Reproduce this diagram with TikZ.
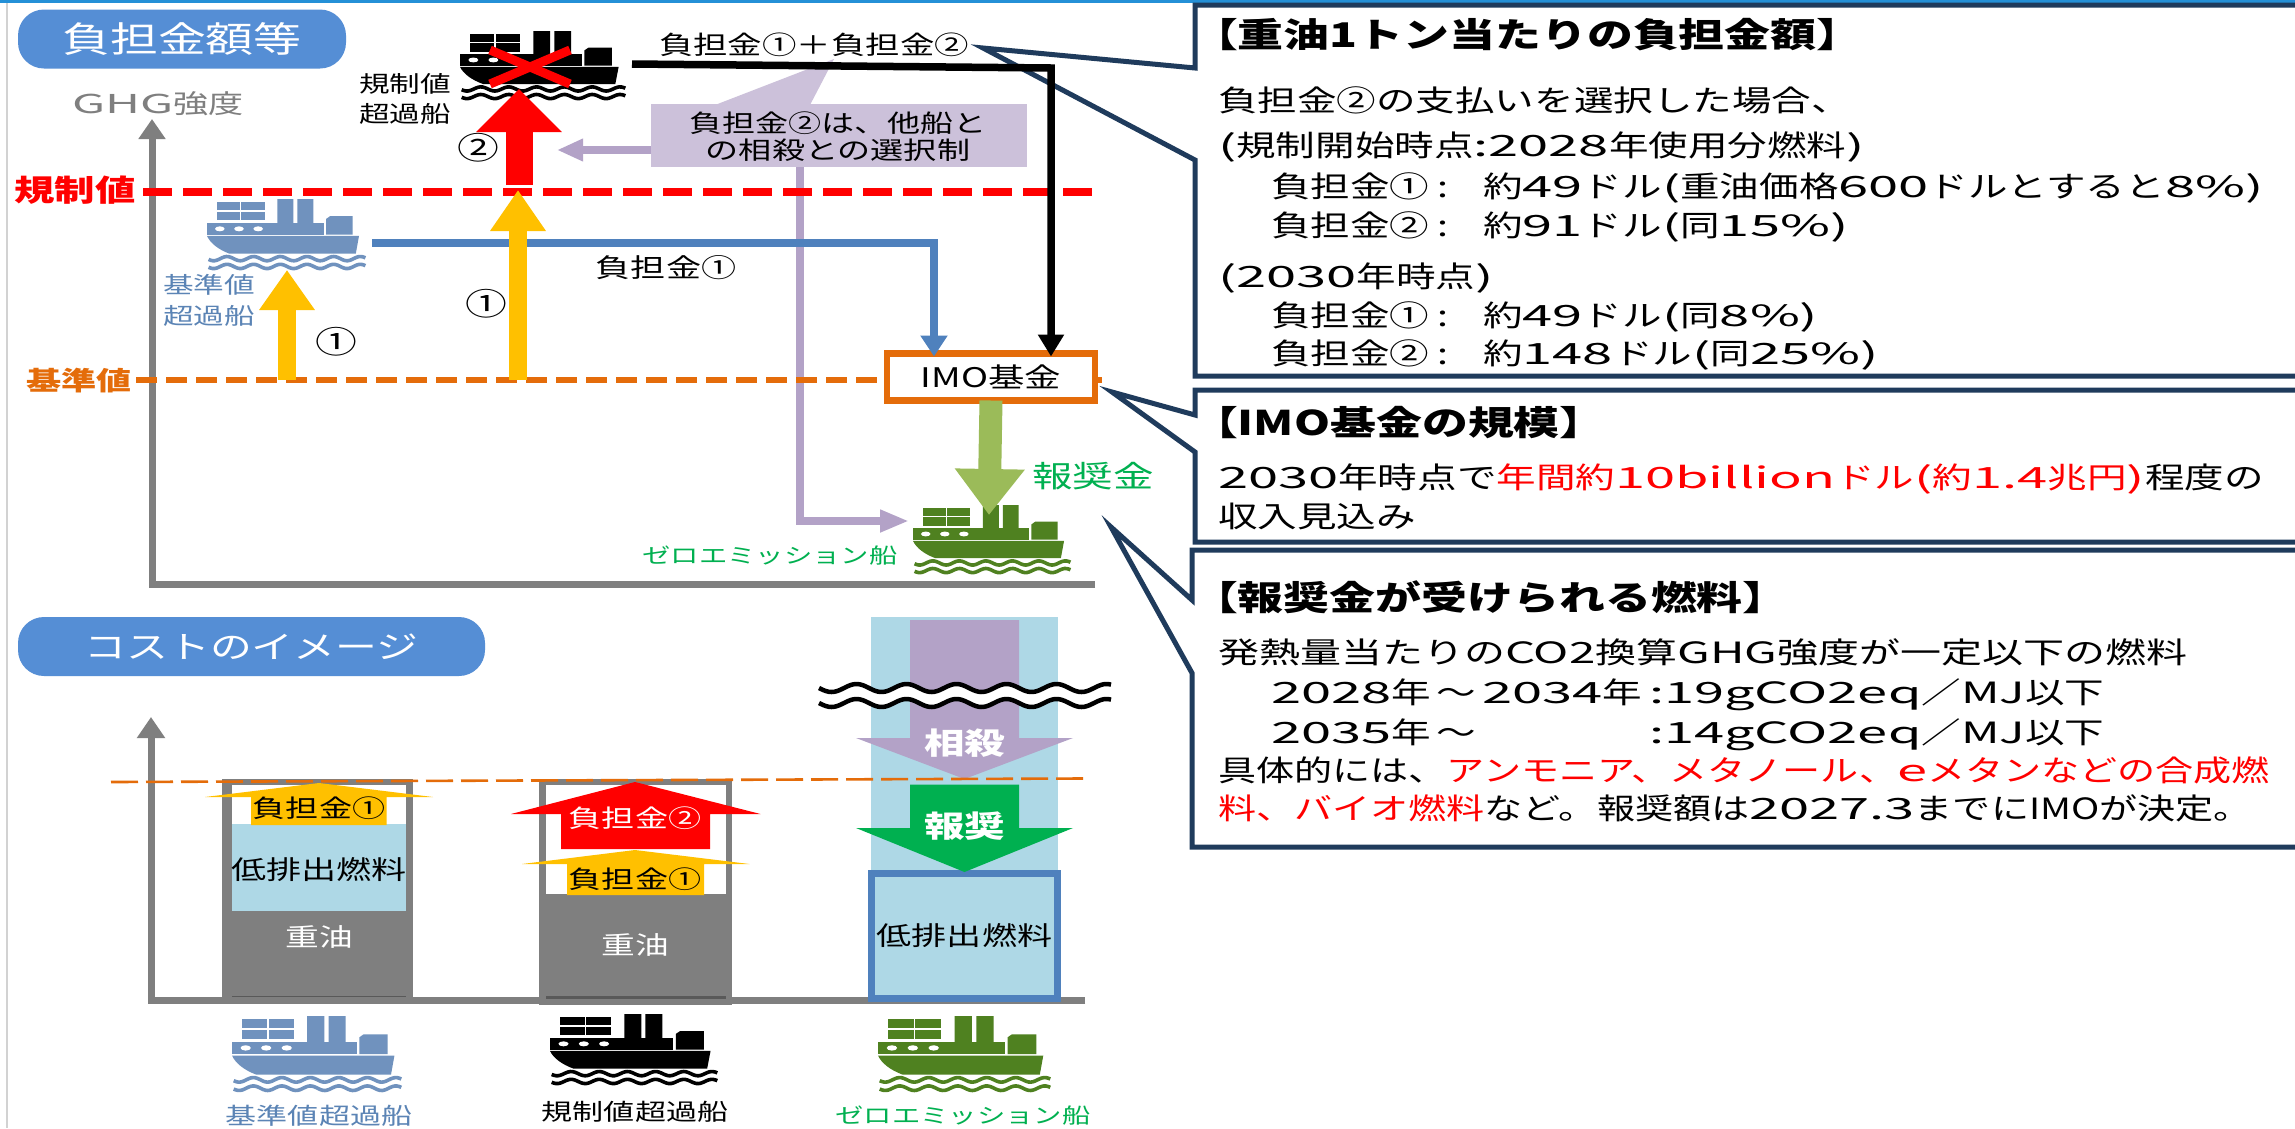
\documentclass[tikz,border=0pt]{standalone}
\usepackage{fontspec}
\usetikzlibrary{arrows.meta,calc}
\setmainfont{Noto Sans CJK JP}[FakeStretch=1.35]
\newfontfamily\latfont{Noto Sans CJK JP}[FakeStretch=1.85]
\newfontfamily\midfont{Noto Sans CJK JP}[FakeStretch=1.62]
\newfontfamily\knfont{Noto Sans CJK JP}[FakeStretch=1.3]
\newfontfamily\wdfont{Noto Sans CJK JP}[FakeStretch=1.4]
\newcommand{\dg}[1]{{\latfont #1}}
\newcommand{\mg}[1]{{\midfont #1}}
\newcommand{\kn}[1]{{\knfont #1}}
\newcommand{\fs}[1]{\fontsize{#1}{#1}\selectfont}
\newcommand{\cl}{\makebox[54pt][l]{\hspace{8pt}:}}
\definecolor{navy}{HTML}{1F3B5C}
\definecolor{axisgray}{HTML}{7F7F7F}
\definecolor{pillblue}{HTML}{558ED5}
\definecolor{fundorange}{HTML}{E46C0A}
\definecolor{amber}{HTML}{FFC000}
\definecolor{linkblue}{HTML}{4F81BD}
\definecolor{lilac}{HTML}{B3A2C7}
\definecolor{lilacbox}{HTML}{CCC1DA}
\definecolor{grass}{HTML}{9BBB59}
\definecolor{ecogreen}{HTML}{00B050}
\definecolor{paleblue}{HTML}{AED8E6}
\definecolor{shipblue}{HTML}{7092BE}
\definecolor{shipgreen}{HTML}{4F8120}
\definecolor{labelblue}{HTML}{5B84B5}
\tikzset{
  txt/.style={inner sep=0pt,outer sep=0pt},
  pill/.style={txt,fill=pillblue,text=white,rounded corners=26pt},
  body/.style={txt,anchor=north west,align=left,font=\fontsize{29.3}{39}\selectfont},
  title/.style={txt,anchor=west,font=\fontsize{34}{36}\selectfont\bfseries},
  callout/.style={draw=navy,line width=5pt,fill=white,line join=miter},
  axis/.style={draw=axisgray,line width=7pt},
  bar/.style={fill=axisgray},
}
% ship: #1 colour, #2 x, #3 y, #4 width, #5 height (pixels)
\newcommand{\shipdraw}[5]{%
\begin{scope}[shift={(#2,#3)},xscale=#4/100,yscale=#5/100]
  \fill[#1] (6,4) rectangle (36,30);
  \draw[white,line width=1.4pt] (6,17) -- (36,17) (21,4) -- (21,30);
  \fill[#1] (44,0) rectangle (54,37) (56.5,0) rectangle (66.5,37);
  \fill[#1] (0,34) rectangle (73,50);
  \fill[white] (8,42) ellipse (3 and 3.5) (20,42) ellipse (3 and 3.5) (32,42) ellipse (3 and 3.5);
  \fill[#1] (74.5,50) -- (74.5,28) -- (77,24) -- (91,24) -- (91,50) -- cycle;
  \fill[#1] (0,52) -- (95,52) -- (93,77) -- (14,77) .. controls (7,71) and (2,62) .. (0,52) -- cycle;
  \draw[#1,line width=3.6pt] plot[domain=1:99,samples=80,smooth] (\x,{84+3*sin(\x*21.6)});
  \draw[#1,line width=3.6pt] plot[domain=1:99,samples=80,smooth] (\x,{95+3*sin(\x*21.6)});
\end{scope}}
\begin{document}
\begin{tikzpicture}[x=1pt,y=-1pt]
\useasboundingbox (0,0) rectangle (2295,1128);
\fill[white] (0,0) rectangle (2295,1128);
\draw[gray!35,line width=1.5pt] (7,0) -- (7,1128);
\fill[cyan!70!blue!90] (0,0) rectangle (2295,3);

% ---------- callouts
\draw[callout] (2305,5) -- (1195,5) -- (1195,68) -- (983,48) -- (1195,160) -- (1195,376) -- (2305,376);
\draw[callout] (2305,390) -- (1195,390) -- (1195,415) -- (1112,392) -- (1195,452) -- (1195,542) -- (2305,542);
\draw[callout] (2305,550) -- (1192,550) -- (1192,600) -- (1111,527) -- (1192,673) -- (1192,847) -- (2305,847);

\node[title] (t1) at (1192,35) {【重油1トン当たりの負担金額】};
\node[body] (b1) at (1218,87) {負担金②の支払いを選択した場合、\\[6pt]
\dg{(}規制開始時点\dg{:2028}年使用分燃料\dg{)}\\[2pt]
\hspace*{53pt}負担金①\cl 約\dg{49}ドル\dg{(}重油価格\dg{600}ドルとすると\dg{8\%)}\\
\hspace*{53pt}負担金②\cl 約\dg{91}ドル\dg{(}同\dg{15\%)}\\[12pt]
\dg{(2030}年時点\dg{)}\\
\hspace*{53pt}負担金①\cl 約\dg{49}ドル\dg{(}同\dg{8\%)}\\[-1pt]
\hspace*{53pt}負担金②\cl 約\dg{148}ドル\dg{(}同\dg{25\%)}};

\node[title] (t2) at (1192,423) {【IMO基金の規模】};
\node[body] (b2) at (1218,464) {\dg{2030}年時点で\textcolor{red}{年間約\dg{10billion}ドル\dg{(}約\dg{1.4}兆円\dg{)}}程度の\\
収入見込み};

\node[title] (t3) at (1192,597) {【報奨金が受けられる燃料】};
\node[body] (b3) at (1218,639) {{\wdfont 発熱量当たりの\mg{CO2}換算\mg{GHG}強度が一定以下の燃料}\\[1pt]
\hspace*{53pt}\makebox[378pt][l]{\dg{2028}年\hspace{6pt}〜\hspace{6pt}\dg{2034}年}\dg{:19gCO2eq}／\mg{MJ}以下\\[1pt]
\hspace*{53pt}\makebox[378pt][l]{\dg{2035}年\hspace{6pt}〜}\dg{:14gCO2eq}／\mg{MJ}以下\\[-1pt]
\kn{具体的には、\textcolor{red}{アンモニア、メタノール、\dg{e}メタンなどの合成燃}}\\[-1pt]
\kn{\textcolor{red}{料、バイオ燃料}など。報奨額は\dg{2027.3}までにIMOが決定。}};

% ---------- upper chart
\node[pill,minimum width=328pt,minimum height=59pt,font=\fs{35.5}] (p1) at (182,39) {負担金額等};
\node[txt,text=axisgray,font=\fs{26}] (ghg) at (158,104) {\dg{GHG}強度};
\coordinate (o1) at (152,584);
\coordinate (ytop1) at (152,119);
\coordinate (xend1) at (1095,584);
\draw[axis,-{Triangle[length=20pt,width=26pt]}] (xend1) -- (o1) -- (ytop1);

\node[txt,fill=lilacbox,minimum width=376pt,minimum height=63pt] (note) at (839,135.5) {};
\fill[lilacbox] (715,105) -- (834,59) -- (810,105) -- cycle;
\node[txt,align=center,font=\fontsize{24.5}{27}\selectfont] (notetext) at (838,136.5) {負担金②は、他船と\\の相殺との選択制};

\coordinate (optTip) at (557,150);
\coordinate (lilacTurn) at (800,521);
\coordinate (lilacTip) at (909,521);
\draw[lilac,line width=7.5pt,-{Triangle[length=26pt,width=21pt]}] (note.west |- optTip) -- (optTip);
\draw[lilac,line width=7.5pt,-{Triangle[length=29pt,width=21pt]}] (note.south -| lilacTurn) -- (lilacTurn) -- (lilacTip);

\coordinate (blueStart) at (372,243);
\coordinate (redA) at (143,192); \coordinate (redB) at (1093,192);
\coordinate (orA) at (136,380); \coordinate (orB) at (1102,380);
\draw[red,line width=7.5pt,dash pattern=on 29pt off 11pt] (redA) -- (redB);
\draw[fundorange,line width=6pt,dash pattern=on 21pt off 9pt] (orA) -- (orB);
\node[txt,draw=fundorange,line width=6.5pt,fill=white,minimum width=208pt,minimum height=47pt,font=\fs{27}] (imo) at (991,377) {IMO基金};

\draw[linkblue,line width=7.5pt,-{Triangle[length=21pt,width=26pt]}] (blueStart) -| ([xshift=-57pt,yshift=-3pt]imo.north);
\coordinate (blackStart) at (632,64);
\coordinate (blackCorner) at (1051,68);
\draw[black,line width=7.5pt,-{Triangle[length=22pt,width=25pt]}] (blackStart) -- (blackCorner) -- ([xshift=60pt,yshift=-3pt]imo.north);
\node[txt,font=\fs{25.5}] (sum) at (814,45) {負担金①＋負担金②};
\node[txt,font=\fs{26}] (lab1) at (666,268) {負担金①};

\shipdraw{black}{460}{31}{167}{69}
\shipdraw{shipblue}{207}{199}{160}{71}
\shipdraw{shipgreen}{913}{505}{159}{69}
\coordinate (xa) at (490,50); \coordinate (xb) at (570,84); \coordinate (xc) at (570,50); \coordinate (xd) at (490,84);
\draw[red,line width=9pt] (xa) -- (xb) (xc) -- (xd);

\coordinate (redFoot) at (519,185); \coordinate (redTip) at (519,89);
\coordinate (yaFoot) at (518,380); \coordinate (yaTip) at (518,190);
\coordinate (ybFoot) at (287,380); \coordinate (ybTip) at (287,270);
\draw[red,line width=27pt,-{Triangle[length=43pt,width=83pt]}] (redFoot) -- (redTip);
\draw[amber,line width=18pt,-{Triangle[length=41pt,width=53pt]}] (yaFoot) -- (yaTip);
\draw[amber,line width=18pt,-{Triangle[length=40pt,width=53pt]}] (ybFoot) -- (ybTip);
\draw[grass,line width=23pt,-{Triangle[length=46pt,width=67pt]}] (imo.south) -- (989,515);

\node[txt,font=\fs{31}] (n2) at (478,148) {②};
\node[txt,font=\fs{31}] (n1a) at (486,304) {①};
\node[txt,font=\fs{31}] (n1b) at (336,342) {①};
\node[txt,text=red,font=\fs{30}\bfseries] (limit) at (75,190) {規制値};
\node[txt,text=fundorange,font=\fs{26}\bfseries] (base) at (79,381) {基準値};
\node[txt,align=center,font=\fontsize{22.7}{30}\selectfont] (k1) at (405,99) {規制値\\超過船};
\node[txt,align=center,text=labelblue,font=\fontsize{22.7}{31}\selectfont] (k2) at (209,300) {基準値\\超過船};
\node[txt,text=ecogreen,font=\fs{21}] (z1) at (770,556) {ゼロエミッション船};
\node[txt,text=ecogreen,font=\fs{30}] (reward) at (1093,476) {報奨金};

% ---------- lower chart
\node[pill,minimum width=467pt,minimum height=59pt,font=\fs{31}] (p2) at (251.5,646.5) {コストのイメージ};
\coordinate (o2) at (151,1000);
\coordinate (ytop2) at (151,717);
\coordinate (xend2) at (1085,1000);

% third column background
\fill[paleblue] (871,617) rectangle (1058,872);
\draw[axis,-{Triangle[length=21pt,width=27pt]}] (xend2) -- (o2) -- (ytop2);

% bar 1
\fill[bar] (222,778.5) rectangle (413,1000);
\fill[white] (232,784.5) rectangle (406,824);
\fill[paleblue] (232,824) rectangle (406,911);
\draw[black!65,line width=1.5pt] (232,996.5) -- (406,996.5);
\fill[amber] (319,783) -- (433,797) -- (386.5,797) -- (386.5,825) -- (251,825) -- (251,797) -- (205,797) -- cycle;
\node[txt,font=\fs{24.5}] (b1a) at (319,808) {負担金①};
\node[txt,font=\fs{26}] (b1f) at (319,869.5) {低排出燃料};
\node[txt,text=white,font=\fs{25}] (b1o) at (319,936.5) {重油};

% bar 2
\fill[bar] (539,779) rectangle (732,1005);
\fill[white] (546,784.5) rectangle (726,893.5);
\draw[black!65,line width=2.5pt] (546,997.5) -- (726,997.5);
\fill[red] (635,782) -- (760.5,814) -- (710,814) -- (710,849) -- (561,849) -- (561,814) -- (511,814) -- cycle;
\fill[amber] (635,850) -- (749.5,864) -- (704,864) -- (704,895) -- (567,895) -- (567,864) -- (522,864) -- cycle;
\node[txt,text=white,font=\fs{24.5}] (b2b) at (635,818) {負担金②};
\node[txt,font=\fs{24.5}] (b2a) at (635,879) {負担金①};
\node[txt,text=white,font=\fs{25}] (b2o) at (635,945) {重油};

% bar 3
\node[txt,draw=linkblue,fill=paleblue,line width=7pt,minimum width=186pt,minimum height=125pt,font=\fs{26}] (lowbox) at (964.5,935.5) {低排出燃料};
\fill[lilac] (910,620) -- (1019,620) -- (1019,738) -- (1073,738) -- (964.5,779) -- (856,738) -- (910,738) -- cycle;
\fill[ecogreen] (910,784.5) -- (1019,784.5) -- (1019,828) -- (1073,828) -- (964.5,872) -- (856,828) -- (910,828) -- cycle;
\node[txt,text=white,font=\fs{30}\bfseries] (m1) at (964.5,743) {相殺};
\node[txt,text=white,font=\fs{30}\bfseries] (m2) at (964.5,826) {報奨};
\fill[white] plot[domain=819:1111,samples=120,smooth] (\x,{688+4*sin((\x-819)*7.2)}) -- plot[domain=1111:819,samples=120,smooth] (\x,{703+4*sin((\x-819)*7.2)}) -- cycle;
\draw[black,line width=4.5pt] plot[domain=819:1111,samples=120,smooth] (\x,{688+4*sin((\x-819)*7.2)});
\draw[black,line width=4.5pt] plot[domain=819:1111,samples=120,smooth] (\x,{703+4*sin((\x-819)*7.2)});

% reference dashed line
\coordinate (refA) at (111,782); \coordinate (refB) at (1083,778.5);
\draw[fundorange,line width=2.6pt,dash pattern=on 27pt off 8pt] (refA) -- (refB);

% ships below
\shipdraw{shipblue}{232}{1016}{171}{76}
\shipdraw{black}{550}{1014}{169}{71}
\shipdraw{shipgreen}{878}{1016}{174}{76}
\node[txt,text=labelblue,font=\fs{23}] (s1) at (319,1116) {基準値超過船};
\node[txt,font=\fs{23}] (s2) at (635,1112) {規制値超過船};
\node[txt,text=ecogreen,font=\fs{21}] (s3) at (963,1116) {ゼロエミッション船};
\end{tikzpicture}
\end{document}
